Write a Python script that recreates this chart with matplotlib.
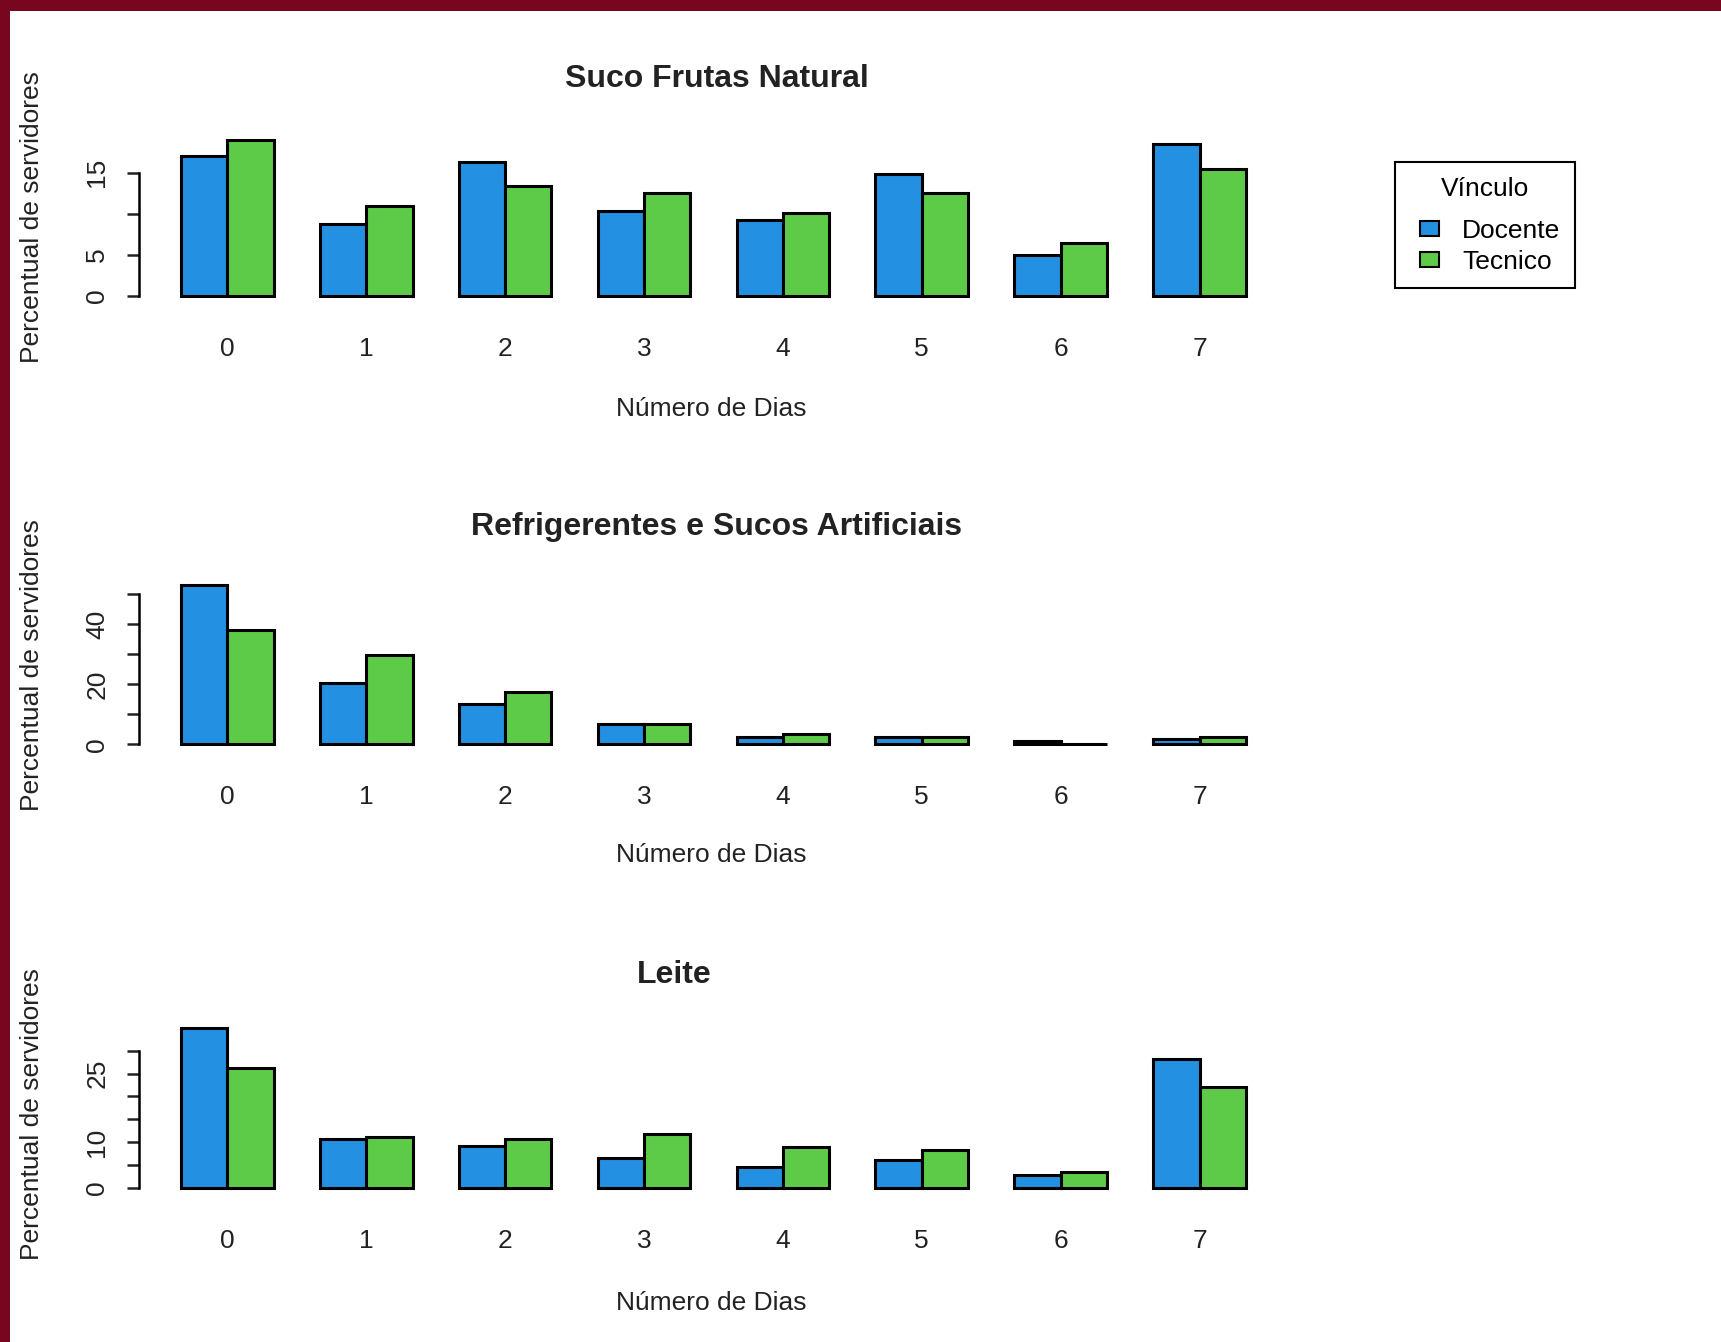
import numpy as np
import matplotlib
matplotlib.use("Agg")
import matplotlib.pyplot as plt
from matplotlib.patches import Patch, Rectangle
from matplotlib.legend_handler import HandlerPatch

plt.rcParams['font.family'] = ['Liberation Sans', 'DejaVu Sans']

# Values (percent of staff)
dias = ['0', '1', '2', '3', '4', '5', '6', '7']
suco_docente = [17.0, 8.8, 16.3, 10.4, 9.2, 14.9, 5.0, 18.5]
suco_tecnico = [19.0, 11.0, 13.4, 12.5, 10.1, 12.5, 6.5, 15.5]
refri_docente = [53.0, 20.5, 13.3, 6.6, 2.5, 2.5, 1.0, 1.7]
refri_tecnico = [38.2, 29.8, 17.3, 6.6, 3.3, 2.5, 0.0, 2.5]
leite_docente = [35.0, 10.7, 9.1, 6.4, 4.5, 6.0, 2.8, 28.2]
leite_tecnico = [26.2, 11.2, 10.7, 11.8, 8.9, 8.3, 3.4, 22.1]
grupos = ['Docente', 'Tecnico']

blue = '#2390e2'
green = '#5dcb48'
W, H = 1721, 1342

fig = plt.figure(figsize=(W / 100, H / 100), dpi=100)
fig.patch.set_facecolor('white')

# dark red frame of the screenshot
fig.add_artist(Rectangle((0, 1 - 11 / H), 1, 11 / H, transform=fig.transFigure,
                         facecolor='#78061f', edgecolor='none'))
fig.add_artist(Rectangle((0, 0), 10 / W, 1, transform=fig.transFigure,
                         facecolor='#78061f', edgecolor='none'))

panels = [
    dict(title='Suco Frutas Natural', doc=suco_docente, tec=suco_tecnico,
         yticks=[0, 5, 10, 15], ylabels=['0', '5', '', '15'],
         top=133.6, bottom=302.2, tx=717, ty=79, xly=409, yly=217),
    dict(title='Refrigerentes e Sucos Artificiais', doc=refri_docente, tec=refri_tecnico,
         yticks=[0, 10, 20, 30, 40, 50], ylabels=['0', '', '20', '', '40', ''],
         top=578.8, bottom=750.6, tx=717, ty=527, xly=855, yly=665),
    dict(title='Leite', doc=leite_docente, tec=leite_tecnico,
         yticks=[0, 5, 10, 15, 20, 25, 30], ylabels=['0', '', '10', '', '', '25', ''],
         top=1021.6, bottom=1194.0, tx=674, ty=975, xly=1303, yly=1114),
]

left, right = 138.5, 1288.4
x0 = np.arange(len(dias)) * 3

for p in panels:
    ax = fig.add_axes([left / W, 1 - p['bottom'] / H, (right - left) / W,
                       (p['bottom'] - p['top']) / H])
    ax.bar(x0 + 1.5, p['doc'], width=1, color=blue, edgecolor='black', linewidth=2.2)
    ax.bar(x0 + 2.5, p['tec'], width=1, color=green, edgecolor='black', linewidth=2.2)
    ymax = max(max(p['doc']), max(p['tec']))
    ax.set_ylim(-0.04 * ymax, 1.04 * ymax)
    ax.set_xlim(0.08, 24.92)
    for s in ['top', 'right', 'bottom']:
        ax.spines[s].set_visible(False)
    ax.spines['left'].set_bounds(p['yticks'][0], p['yticks'][-1])
    ax.spines['left'].set_linewidth(1.8)
    ax.set_yticks(p['yticks'], p['ylabels'])
    ax.tick_params(axis='y', length=9, width=1.8, pad=12, labelsize=19,
                   labelrotation=90, colors='#222222')
    for lab in ax.get_yticklabels():
        lab.set_va('center')
    ax.set_xticks(x0 + 2, dias)
    ax.tick_params(axis='x', length=0, pad=25, labelsize=19, colors='#222222')
    ax.patch.set_alpha(0)

    fig.text(p['tx'] / W, 1 - p['ty'] / H, p['title'], ha='center', va='center',
             fontsize=23, fontweight='bold', color='#222222')
    fig.text(711 / W, 1 - p['xly'] / H, 'Número de Dias', ha='center', va='center',
             fontsize=19, color='#222222')
    fig.text(32 / W, 1 - p['yly'] / H, 'Percentual de servidores', ha='center',
             va='center', rotation=90, fontsize=19, color='#222222')


def small_box(legend, orig_handle, xdescent, ydescent, width, height, fontsize):
    w = 13.5  # points
    return Rectangle((-xdescent + width - w, -ydescent + height * 0.05), w, height * 0.9)


handles = [Patch(facecolor=blue, edgecolor='black', linewidth=1.5),
           Patch(facecolor=green, edgecolor='black', linewidth=1.5)]
leg = fig.legend(handles, grupos, title='Vínculo', loc='upper left',
                 bbox_to_anchor=(1395 / W, 1 - 162 / H), fontsize=19, title_fontsize=19,
                 frameon=True, fancybox=False, edgecolor='black', framealpha=1,
                 handlelength=1.1, handleheight=0.6, handletextpad=0.9,
                 labelspacing=0.28, borderpad=0.55, borderaxespad=0,
                 handler_map={Patch: HandlerPatch(patch_func=small_box)})
leg.get_frame().set_linewidth(1.5)
leg._legend_box.sep = 13

fig.savefig('out.png', dpi=100)
